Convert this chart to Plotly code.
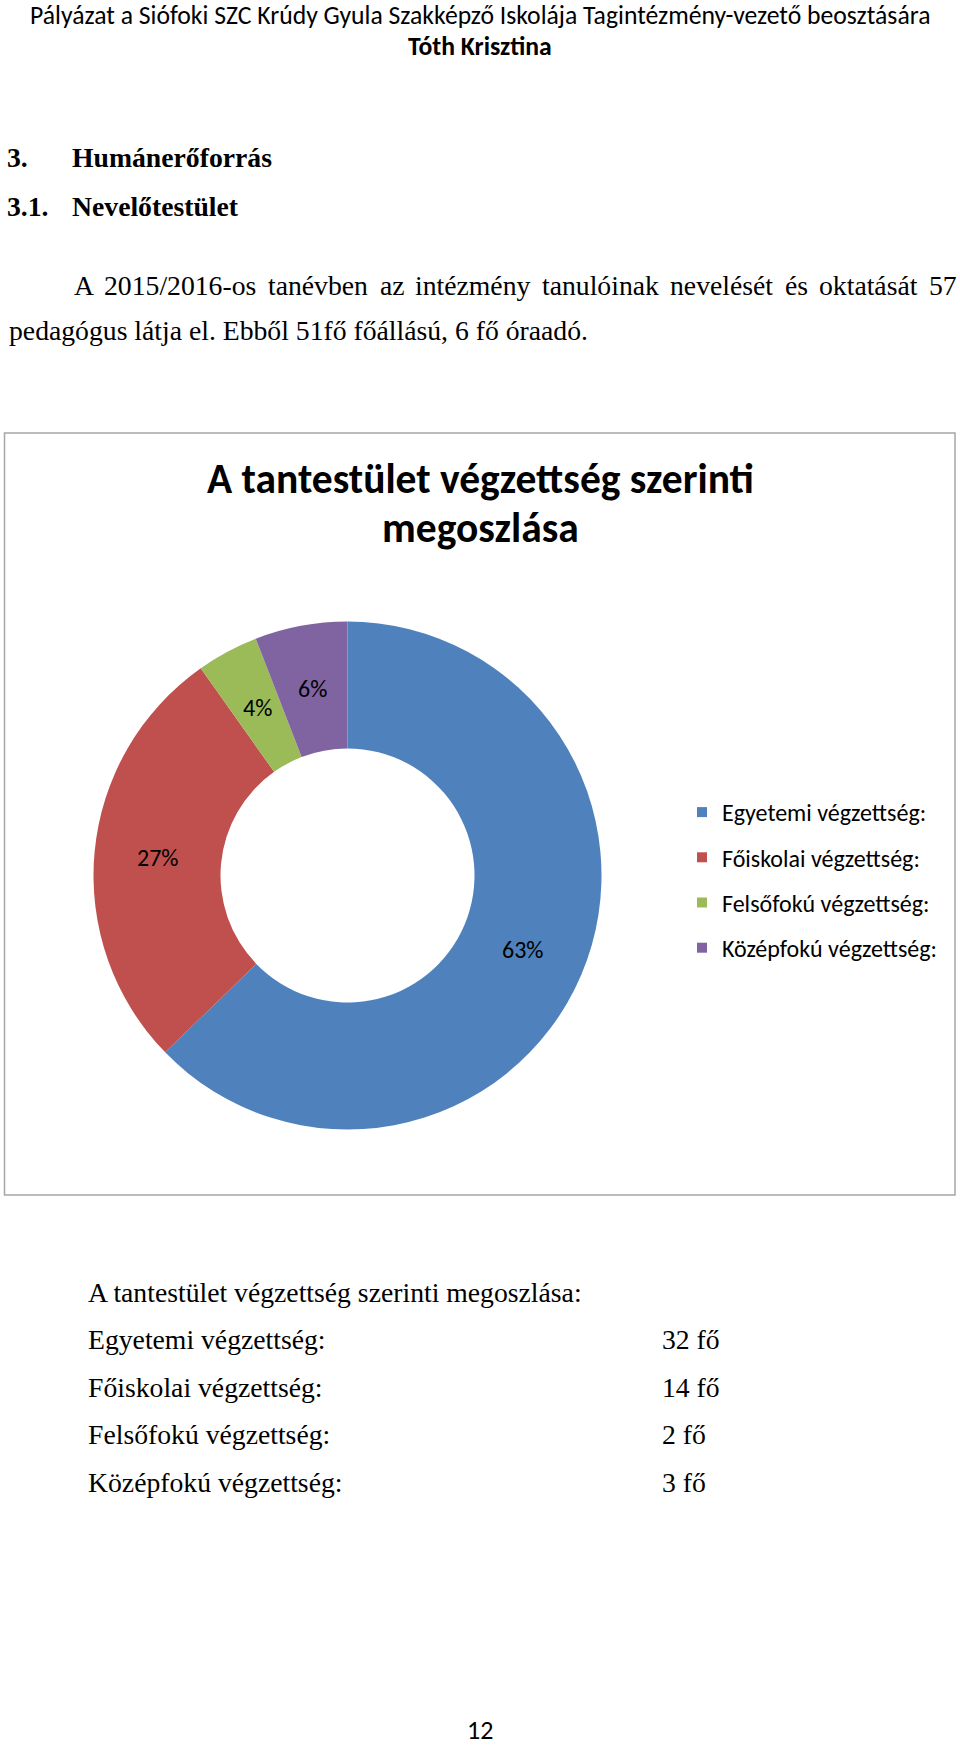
import math
import plotly.graph_objects as go

W, H = 960, 1747

# ---- data ----
categories = ["Egyetemi végzettség:", "Főiskolai végzettség:", "Felsőfokú végzettség:", "Középfokú végzettség:"]
counts = [32, 14, 2, 3]
colors = ["#4F81BD", "#C0504D", "#9BBB59", "#8064A2"]
chart_title_lines = ["A tantestület végzettség szerinti", "megoszlása"]
table_title = "A tantestület végzettség szerinti megoszlása:"
unit = "fő"

CAL = "Carlito, Lato, sans-serif"
TNR = "Liberation Serif, Times New Roman, serif"


def py(ypx):
    return 1 - ypx / H


def px(xpx):
    return xpx / W


fig = go.Figure()

# donut: centre (347.5, 875.5), radius 254, hole 50%
cx, cy, r, hole = 347.5, 875.5, 254, 0.5
fig.add_trace(go.Pie(
    labels=categories,
    values=counts,
    marker=dict(colors=colors, line=dict(width=0)),
    hole=hole,
    sort=False,
    direction="clockwise",
    rotation=0,
    textinfo="none",
    domain=dict(x=[px(cx - r), px(cx + r)], y=[py(cy + r), py(cy - r)]),
    showlegend=False,
    hoverinfo="label+value+percent",
))

# legend entries (one per category)
for cat, col in zip(categories, colors):
    fig.add_trace(go.Scatter(
        x=[None], y=[None], mode="markers", name=cat, legendgroup=cat,
        marker=dict(symbol="square", size=10, color=col),
        showlegend=True, hoverinfo="skip",
    ))

ann = []


def text(t, x, y, size, family, bold=False, xanchor="left", color="#000000"):
    if bold:
        t = "<b>" + t + "</b>"
    ann.append(dict(text=t, x=px(x), y=py(y), xref="paper", yref="paper",
                    xanchor=xanchor, yanchor="middle", showarrow=False,
                    font=dict(family=family, size=size, color=color)))


# percentage labels placed mid-ring on each slice's bisector (Excel style)
total = sum(counts)
rm = r * (1 + hole) / 2
cum = 0
for v in counts:
    theta = 2 * math.pi * (cum + v / 2) / total
    cum += v
    text(f"{round(100 * v / total)}%", cx + rm * math.sin(theta), cy - rm * math.cos(theta),
         24, CAL, xanchor="center")

# page header
text("Pályázat a Siófoki SZC Krúdy Gyula Szakképző Iskolája Tagintézmény-vezető beosztására",
     480, 16, 25.7, CAL, xanchor="center")
text("Tóth Krisztina", 480, 46, 25.7, CAL, bold=True, xanchor="center")

# headings
text("3.", 5, 157, 27.7, TNR, bold=True)
text("Humánerőforrás", 70, 157, 27.7, TNR, bold=True)
text("3.1.", 5, 206, 27.7, TNR, bold=True)
text("Nevelőtestület", 70, 206, 27.7, TNR, bold=True)

# justified paragraph line 1 (word positions)
words = ["A", "2015/2016-os", "tanévben", "az", "intézmény", "tanulóinak",
         "nevelését", "és", "oktatását", "57"]
wx = [72, 102, 266, 378, 413, 540, 668, 783, 817, 927]
for w_, x_ in zip(words, wx):
    text(w_, x_, 285, 27.7, TNR)
text("pedagógus látja el. Ebből 51fő főállású, 6 fő óraadó.", 7, 331, 27.7, TNR)

# chart title
text(chart_title_lines[0], 480, 478, 41.5, CAL, bold=True, xanchor="center")
text(chart_title_lines[1], 480, 527, 41.5, CAL, bold=True, xanchor="center")

# table below chart
text(table_title, 86, 1292, 27.7, TNR)
row_y = [1339, 1387, 1434, 1482]
for cat, v, yy in zip(categories, counts, row_y):
    text(cat, 86, yy, 27.7, TNR)
    text(f"{v} {unit}", 660, yy, 27.7, TNR)

# page number
text("12", 480, 1730, 26, CAL, xanchor="center")

fig.update_layout(
    width=W, height=H,
    margin=dict(l=0, r=0, t=0, b=0),
    paper_bgcolor="white", plot_bgcolor="white",
    xaxis=dict(visible=False, domain=[0.99, 1.0]),
    yaxis=dict(visible=False, domain=[0.0, 0.01]),
    annotations=ann,
    legend=dict(
        x=px(682), y=py(790), xanchor="left", yanchor="top",
        font=dict(family=CAL, size=24, color="#000000"),
        traceorder="grouped", tracegroupgap=11,
        bgcolor="rgba(0,0,0,0)", itemclick=False, itemdoubleclick=False,
    ),
    shapes=[dict(type="rect", xref="paper", yref="paper",
                 x0=px(4.5), x1=px(955), y0=py(1195), y1=py(433),
                 line=dict(color="#A6A6A6", width=1.5), fillcolor="rgba(0,0,0,0)",
                 layer="below")],
    showlegend=True,
)

fig.write_html("out.html",
               config={"displayModeBar": False},
               post_script="document.body.style.margin='0';document.body.style.overflow='hidden';")
